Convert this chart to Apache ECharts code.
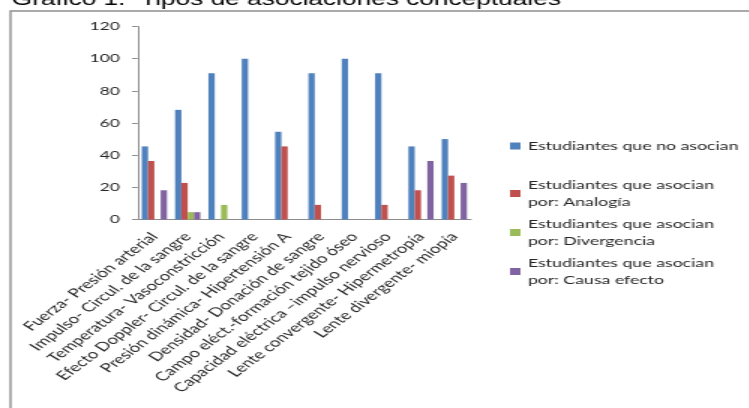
<!DOCTYPE html>
<html>
<head>
<meta charset="utf-8">
<script src="https://cdn.jsdelivr.net/npm/echarts@6/dist/echarts.min.js"></script>
<style>
html,body{margin:0;padding:0;background:#fff;overflow:hidden;}
#c{width:499.33px;height:408px;transform:scaleX(1.5);transform-origin:0 0;}
</style>
</head>
<body>
<div id="c"></div>
<script>
const titleText = 'Gráfico 1.  Tipos de asociaciones conceptuales';
const categories = [
  'Fuerza- Presión arterial',
  'Impulso- Circul. de la sangre',
  'Temperatura- Vasoconstricción',
  'Efecto Doppler- Circul. de la sangre',
  'Presión dinámica- Hipertensión A',
  'Densidad- Donación de sangre',
  'Campo eléct.-formación tejido óseo',
  'Capacidad eléctrica –impulso nervioso',
  'Lente convergente- Hipermetropía',
  'Lente divergente- miopía'
];
const seriesNames = [
  'Estudiantes que no asocian',
  'Estudiantes que asocian por: Analogía',
  'Estudiantes que asocian por: Divergencia',
  'Estudiantes que asocian por: Causa efecto'
];
const noAsocian   = [45.45, 68.18, 90.91, 100, 54.55, 90.91, 100, 90.91, 45.45, 50];
const analogia    = [36.36, 22.73, 0, 0, 45.45, 9.09, 0, 9.09, 18.18, 27.27];
const divergencia = [0, 4.55, 9.09, 0, 0, 0, 0, 0, 0, 0];
const causaEfecto = [18.18, 4.55, 0, 0, 0, 0, 0, 0, 36.36, 22.73];
const yTicks = [0, 20, 40, 60, 80, 100, 120];
const colors = ['#4F81BD', '#C0504D', '#9BBB59', '#8064A2'];

const values = [noAsocian, analogia, divergencia, causaEfecto];
const txt = '#262626';
const axisCol = '#8c8c8c';
const fontFam = 'Lato';

const chart = echarts.init(document.getElementById('c'), null, {renderer: 'canvas'});
const legendText = {fontFamily: fontFam, fontSize: 11.8, color: txt, lineHeight: 17};
chart.setOption({
  animation: false,
  color: colors,
  graphic: [
    {type: 'rect', shape: {x: 7, y: 11, width: 700, height: 600},
     style: {fill: 'none', stroke: '#8f8f8f', lineWidth: 1.4}},
    {type: 'text', x: 7.8, y: 0.5,
     style: {text: titleText, font: '17.5px "Liberation Sans", Arial, sans-serif', fill: '#000', verticalAlign: 'middle'}}
  ],
  grid: {left: 91.8, top: 26.5, width: 222.2, height: 193, containLabel: false},
  legend: [
    {orient: 'vertical', left: 340, top: 137.5, itemWidth: 7, itemHeight: 7, itemGap: 5,
     icon: 'rect', data: [seriesNames[0]], textStyle: legendText, padding: 0,
     selectedMode: false},
    {orient: 'vertical', left: 340, top: 176.5, itemWidth: 7, itemHeight: 7, itemGap: 5,
     icon: 'rect', data: seriesNames.slice(1), textStyle: legendText, padding: 0,
     selectedMode: false,
     formatter: n => n.replace('asocian por', 'asocian\npor')}
  ],
  xAxis: {
    type: 'category', data: categories,
    axisLine: {lineStyle: {color: axisCol, width: 1}},
    axisTick: {length: 4, lineStyle: {color: axisCol}},
    axisLabel: {rotate: 48, interval: 0, margin: 15, fontFamily: fontFam, fontSize: 12.5, color: txt}
  },
  yAxis: {
    type: 'value', min: yTicks[0], max: yTicks[yTicks.length - 1], interval: yTicks[1] - yTicks[0],
    axisLine: {show: true, lineStyle: {color: axisCol, width: 1}},
    axisTick: {show: true, length: 3.7, lineStyle: {color: axisCol}},
    splitLine: {show: false},
    axisLabel: {margin: 12, fontFamily: fontFam, fontSize: 11.5, color: txt}
  },
  series: seriesNames.map((n, i) => ({
    name: n, type: 'bar', data: values[i], barWidth: 4.2, barGap: '0%',
    itemStyle: {color: colors[i]}
  }))
});
</script>
</body>
</html>
